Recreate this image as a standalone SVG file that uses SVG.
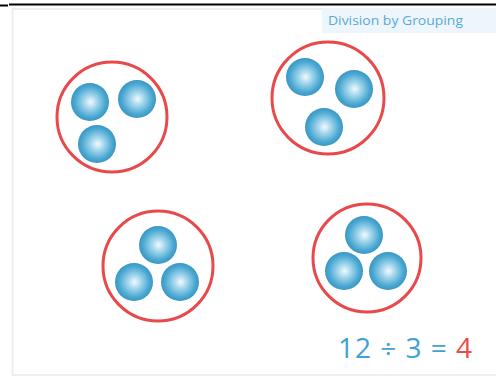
<svg xmlns="http://www.w3.org/2000/svg" width="496" height="377" viewBox="0 0 496 377">
<defs>
<radialGradient id="ball" cx="0.5" cy="0.5" r="0.5" fx="0.52" fy="0.5">
<stop offset="0" stop-color="#f2fafd"/>
<stop offset="0.35" stop-color="#a3d6ec"/>
<stop offset="0.8" stop-color="#4aa8d2"/>
<stop offset="1" stop-color="#3a96c2"/>
</radialGradient>
<style>
.grp{fill:#ffffff;stroke:#e8494a;stroke-width:3}
.b{fill:url(#ball)}
.t{font-family:"Open Sans","Liberation Sans",sans-serif}
</style>
</defs>
<rect width="496" height="377" fill="#ffffff"/>
<rect x="12.5" y="9" width="490" height="366" fill="#ffffff" stroke="#eeeeee" stroke-width="2"/>
<line x1="9" y1="4.5" x2="496" y2="4.5" stroke="#000" stroke-width="2"/>
<line x1="0" y1="5.5" x2="8" y2="5.5" stroke="#000" stroke-width="2"/>
<rect x="322" y="8" width="174" height="25" fill="#eef6fd"/>
<text class="t" x="328" y="25" font-size="13.5" fill="#5aa8d8" textLength="135" lengthAdjust="spacingAndGlyphs">Division by Grouping</text>
<g id="group1">
<circle class="grp" cx="112" cy="117" r="55"/>
<circle class="b" cx="90" cy="102" r="19"/>
<circle class="b" cx="137" cy="99" r="19"/>
<circle class="b" cx="97" cy="144" r="19"/>
</g>
<g id="group2">
<circle class="grp" cx="328" cy="98" r="56"/>
<circle class="b" cx="305" cy="77" r="19"/>
<circle class="b" cx="354" cy="89" r="19"/>
<circle class="b" cx="324" cy="127" r="19"/>
</g>
<g id="group3">
<circle class="grp" cx="158" cy="266" r="55"/>
<circle class="b" cx="158" cy="245" r="19"/>
<circle class="b" cx="134" cy="282" r="19"/>
<circle class="b" cx="180" cy="282" r="19"/>
</g>
<g id="group4">
<circle class="grp" cx="367" cy="258" r="54"/>
<circle class="b" cx="364" cy="235" r="19"/>
<circle class="b" cx="344" cy="271" r="19"/>
<circle class="b" cx="388" cy="271" r="19"/>
</g>
<text class="t" x="338" y="358" font-size="28" fill="#3fa2d3" textLength="134" lengthAdjust="spacing">12 ÷ 3 = <tspan fill="#ec4b4b">4</tspan></text>
</svg>
